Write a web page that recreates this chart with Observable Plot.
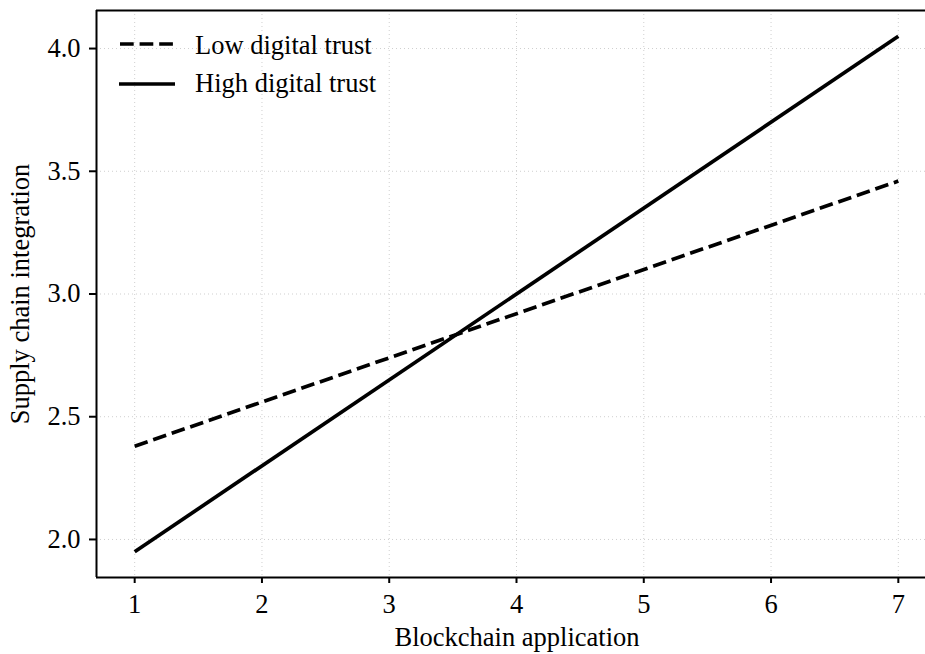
<!DOCTYPE html>
<html><head><meta charset="utf-8">
<script src="https://cdn.jsdelivr.net/npm/d3@7"></script>
<script src="https://cdn.jsdelivr.net/npm/@observablehq/plot@0.6"></script>
<style>
body{margin:0;background:#fff}
#wrap{position:relative;width:925px;height:654px;overflow:hidden}
#legend{position:absolute;left:0;top:0}
</style>
</head><body><div id="wrap"></div>
<script>
const blockchainApplication = [1, 7];
const lowDigitalTrust = [2.38, 3.46];
const highDigitalTrust = [1.95, 4.05];
const xTicks = [1, 2, 3, 4, 5, 6, 7];
const yTicks = [2.0, 2.5, 3.0, 3.5, 4.0];
const seriesNames = ["Low digital trust", "High digital trust"];
const xLabel = "Blockchain application";
const yLabel = "Supply chain integration";

const low = blockchainApplication.map((x, i) => ({x, y: lowDigitalTrust[i]}));
const high = blockchainApplication.map((x, i) => ({x, y: highDigitalTrust[i]}));

const font = "'Liberation Serif', 'Times New Roman', serif";
const fs = 26.5;
const grid = {stroke: "#cfcfcf", strokeOpacity: 1, strokeWidth: 1, strokeDasharray: "1,3"};

const chart = Plot.plot({
  width: 925,
  height: 654,
  marginLeft: 96,
  marginRight: 0,
  marginTop: 10,
  marginBottom: 77,
  style: {fontFamily: font, fontSize: fs + "px", background: "white", color: "black"},
  x: {domain: [0.7, 7.3], range: [96, 936]},
  y: {domain: [1.845, 4.155]},
  marks: [
    Plot.gridX(xTicks, grid),
    Plot.gridY(yTicks, grid),
    Plot.axisX({ticks: xTicks, tickSize: 6, tickPadding: 11, fontSize: fs, strokeWidth: 2, tickFormat: d => String(d), label: null}),
    Plot.axisY({ticks: yTicks, tickSize: 7, tickPadding: 9, fontSize: fs, strokeWidth: 2, tickFormat: d => d.toFixed(1), label: null}),
    Plot.line(low, {x: "x", y: "y", stroke: "black", strokeWidth: 3.7, strokeDasharray: "13.7,5.9", strokeLinecap: "butt"}),
    Plot.line(high, {x: "x", y: "y", stroke: "black", strokeWidth: 3.7, strokeLinecap: "butt"}),
    Plot.ruleX([0.7], {stroke: "black", strokeWidth: 2}),
    Plot.ruleY([1.845, 4.155], {stroke: "black", strokeWidth: 2}),
    Plot.text([xLabel], {text: d => d, frameAnchor: "bottom", textAnchor: "middle", lineAnchor: "middle", dy: 60, dx: 6, fontSize: fs, fill: "black"}),
    Plot.text([yLabel], {text: d => d, frameAnchor: "left", textAnchor: "middle", rotate: -90, lineAnchor: "middle", dx: -76, fontSize: fs, fill: "black"})
  ]
});
const wrap = document.getElementById("wrap");
wrap.appendChild(chart);

// legend overlay
const ns = "http://www.w3.org/2000/svg";
const lg = document.createElementNS(ns, "svg");
lg.setAttribute("id", "legend");
lg.setAttribute("width", 420);
lg.setAttribute("height", 110);
const rows = [
  {name: seriesNames[0], dash: "13.7,5.9", x1: 120, x2: 174, y: 44, base: 54},
  {name: seriesNames[1], dash: null, x1: 119, x2: 175, y: 84, base: 92}
];
rows.forEach(r => {
  const l = document.createElementNS(ns, "line");
  l.setAttribute("x1", r.x1); l.setAttribute("x2", r.x2);
  l.setAttribute("y1", r.y); l.setAttribute("y2", r.y);
  l.setAttribute("stroke", "black"); l.setAttribute("stroke-width", 3.7);
  if (r.dash) l.setAttribute("stroke-dasharray", r.dash);
  lg.appendChild(l);
  const t = document.createElementNS(ns, "text");
  t.setAttribute("x", 195); t.setAttribute("y", r.base);
  t.setAttribute("font-family", font); t.setAttribute("font-size", fs);
  t.setAttribute("fill", "black");
  t.textContent = r.name;
  lg.appendChild(t);
});
wrap.appendChild(lg);
</script></body></html>
